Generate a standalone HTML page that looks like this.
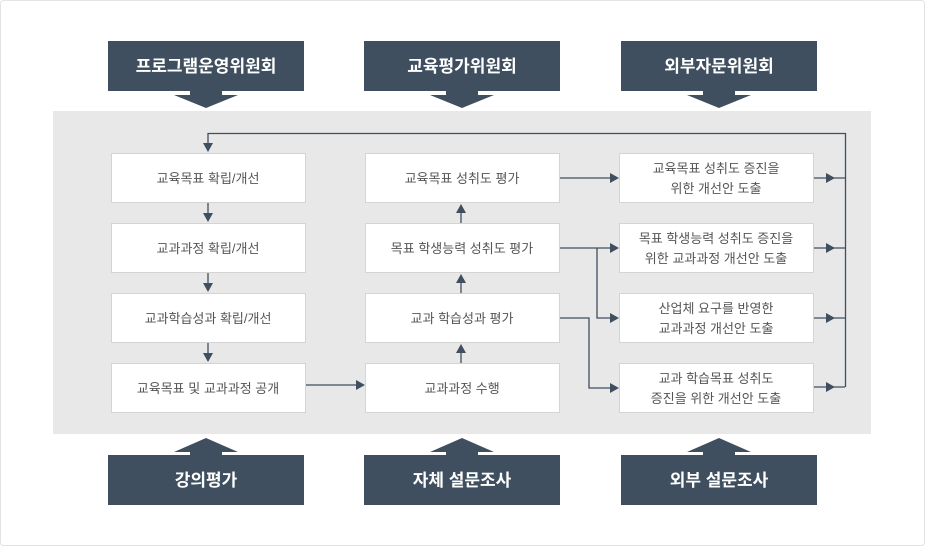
<!DOCTYPE html>
<html><head><meta charset="utf-8"><style>
body{margin:0;background:#fff}
svg text{font-family:"Liberation Sans","Noto Sans CJK KR",sans-serif}
</style></head><body>
<svg width="925" height="546" xmlns="http://www.w3.org/2000/svg">
<rect x="0.5" y="0.5" width="924" height="545" rx="3" fill="#fff" stroke="#e3e3e3"/>
<rect x="53" y="111" width="818" height="323" fill="#e8e8e8"/>
<g fill="#3f4f5f">
<rect x="108" y="41" width="196" height="50"/><rect x="364" y="41" width="196" height="50"/><rect x="621" y="41" width="196" height="50"/>
<polygon points="190,91 222,91 222,95 238,95 206,108 174,95 190,95"/>
<polygon points="446,91 478,91 478,95 494,95 462,108 430,95 446,95"/>
<polygon points="703,91 735,91 735,95 751,95 719,108 687,95 703,95"/>
<rect x="108" y="455" width="196" height="50"/><rect x="364" y="455" width="196" height="50"/><rect x="621" y="455" width="196" height="50"/>
<polygon points="206,438 238,452 222,452 222,455 190,455 190,452 174,452"/>
<polygon points="462,438 494,452 478,452 478,455 446,455 446,452 430,452"/>
<polygon points="719,438 751,452 735,452 735,455 703,455 703,452 687,452"/>
</g>
<g fill="#fff" font-size="17" font-weight="bold" text-anchor="middle">
<text x="206" y="72">프로그램운영위원회</text><text x="462" y="72">교육평가위원회</text><text x="719" y="72">외부자문위원회</text>
<text x="206" y="486">강의평가</text><text x="462" y="486">자체 설문조사</text><text x="719" y="486">외부 설문조사</text>
</g>
<g fill="#fff" stroke="#d4d4d4">
<rect x="111.5" y="153.5" width="194" height="49"/><rect x="111.5" y="223.5" width="194" height="49"/><rect x="111.5" y="293.5" width="194" height="49"/><rect x="111.5" y="363.5" width="194" height="49"/>
<rect x="365.5" y="153.5" width="194" height="49"/><rect x="365.5" y="223.5" width="194" height="49"/><rect x="365.5" y="293.5" width="194" height="49"/><rect x="365.5" y="363.5" width="194" height="49"/>
<rect x="619.5" y="153.5" width="194" height="49"/><rect x="619.5" y="223.5" width="194" height="49"/><rect x="619.5" y="293.5" width="194" height="49"/><rect x="619.5" y="363.5" width="194" height="49"/>
</g>
<g fill="#555" font-size="13" text-anchor="middle">
<text x="208" y="183">교육목표 확립/개선</text><text x="208" y="253">교과과정 확립/개선</text><text x="208" y="323">교과학습성과 확립/개선</text><text x="208" y="393">교육목표 및 교과과정 공개</text>
<text x="462" y="183">교육목표 성취도 평가</text><text x="462" y="253">목표 학생능력 성취도 평가</text><text x="462" y="323">교과 학습성과 평가</text><text x="462" y="393">교과과정 수행</text>
<text x="716" y="173">교육목표 성취도 증진을</text><text x="716" y="193">위한 개선안 도출</text>
<text x="716" y="243">목표 학생능력 성취도 증진을</text><text x="716" y="263">위한 교과과정 개선안 도출</text>
<text x="716" y="313">산업체 요구를 반영한</text><text x="716" y="333">교과과정 개선안 도출</text>
<text x="716" y="383">교과 학습목표 성취도</text><text x="716" y="403">증진을 위한 개선안 도출</text>
</g>
<g fill="none" stroke="#3f4f5f" stroke-width="1.3">
<polyline points="208,148 208,133.5 845.5,133.5 845.5,387"/>
<line x1="208" y1="203" x2="208" y2="216"/><line x1="208" y1="273" x2="208" y2="286"/><line x1="208" y1="343" x2="208" y2="356"/>
<line x1="306" y1="385" x2="358" y2="385"/>
<line x1="461" y1="363" x2="461" y2="350"/><line x1="461" y1="293" x2="461" y2="280"/><line x1="461" y1="223" x2="461" y2="210"/>
<line x1="560" y1="178" x2="612" y2="178"/>
<polyline points="560,248 612,248"/><polyline points="597,248 597,318 612,318"/>
<polyline points="560,318 589,318 589,388 612,388"/>
<line x1="814" y1="178" x2="845" y2="178"/><line x1="814" y1="248" x2="845" y2="248"/><line x1="814" y1="318" x2="845" y2="318"/><line x1="814" y1="387" x2="845" y2="387"/>
</g>
<g fill="#3f4f5f">
<polygon points="203,143 213,143 208,152"/><polygon points="203,213 213,213 208,222"/><polygon points="203,283 213,283 208,292"/><polygon points="203,353 213,353 208,362"/>
<polygon points="356,380 356,390 365,385"/>
<polygon points="456,353 466,353 461,344"/><polygon points="456,283 466,283 461,274"/><polygon points="456,213 466,213 461,204"/>
<polygon points="610,173 610,183 619,178"/><polygon points="610,243 610,253 619,248"/><polygon points="610,313 610,323 619,318"/><polygon points="610,383 610,393 619,388"/>
<polygon points="826,173 826,183 835,178"/><polygon points="826,243 826,253 835,248"/><polygon points="826,313 826,323 835,318"/><polygon points="826,382 826,392 835,387"/>
</g>
</svg>
</body></html>
